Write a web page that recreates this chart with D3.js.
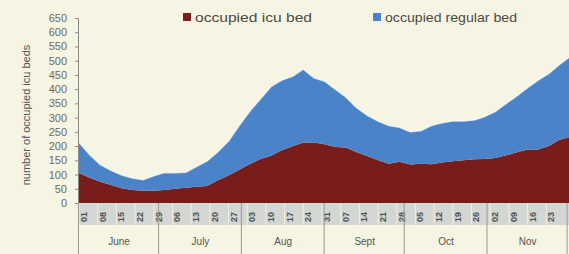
<!DOCTYPE html>
<html>
<head>
<meta charset="utf-8">
<script src="https://cdn.jsdelivr.net/npm/d3@7"></script>
<style>
  body { margin: 0; background: #f6f4e3; }
  svg { display: block; font-family: "Liberation Sans", Arial, sans-serif; }
</style>
</head>
<body>
<div id="wrapper"></div>
<script>
// day offsets from June 1, one reading every 4 days
const dayOffsets = [0, 4, 8, 12, 16, 20, 24, 28, 32, 36, 40, 44, 48, 52, 56, 60, 64, 68, 72, 76,
  80, 84, 88, 92, 96, 100, 104, 108, 112, 116, 120, 124, 128, 132, 136, 140, 144, 148, 152, 156,
  160, 164, 168, 172, 176, 180, 184]
const icuBeds = [105, 89, 75, 63, 52, 46, 43, 43, 46, 50, 54, 57, 60, 80, 97, 117, 137, 155, 166, 185,
  199, 213, 213, 206, 197, 195, 178, 165, 150, 138, 145, 135, 138, 136, 142, 147, 150, 154, 155, 158,
  168, 178, 188, 188, 200, 222, 232]
const regularBeds = [108, 81, 60, 52, 46, 42, 39, 53, 61, 56, 54, 71, 88, 100, 121, 155, 186, 211, 244, 247,
  246, 257, 227, 222, 203, 177, 157, 143, 138, 134, 121, 115, 116, 136, 140, 141, 138, 138, 149, 164,
  182, 198, 217, 244, 255, 265, 283]
const yTicks = [0, 50, 100, 150, 200, 250, 300, 350, 400, 450, 500, 550, 600, 650]
const months = ["June", "July", "Aug", "Sept", "Oct", "Nov"]
const seriesNames = ["occupied icu bed", "occupied regular bed"]
const colors = ["#781c1c", "#4a83c8"]

const startDate = new Date(2020, 5, 1)
const dayToDate = d => d3.timeDay.offset(startDate, d)

const dataset = dayOffsets.map((d, i) => ({
  date: dayToDate(d),
  icu: icuBeds[i],
  regular: regularBeds[i],
}))

let dimensions = {
  width: 569,
  height: 254,
  margin: { top: 20, left: 79, bottom: 51 },
}
dimensions.plotBottom = dimensions.height - dimensions.margin.bottom

const wrapper = d3.select("#wrapper")
  .append("svg")
    .attr("width", dimensions.width)
    .attr("height", dimensions.height)

wrapper.append("rect")
  .attr("width", dimensions.width)
  .attr("height", dimensions.height)
  .attr("fill", "#f6f4e3")

const xScale = d3.scaleTime()
  .domain([startDate, dayToDate(184)])
  .range([dimensions.margin.left, dimensions.margin.left + 184 * 2.67])

const yScale = d3.scaleLinear()
  .domain([0, 650])
  .range([dimensions.plotBottom, 18])

// stacked areas
const stack = d3.stack().keys(["icu", "regular"])
const series = stack(dataset)

const areaGenerator = d3.area()
  .x(d => xScale(d.data.date))
  .y0(d => yScale(d[0]))
  .y1(d => yScale(d[1]))

wrapper.selectAll(".layer")
  .data(series)
  .join("path")
    .attr("class", "layer")
    .attr("d", areaGenerator)
    .attr("fill", (d, i) => colors[i])

// light edge along the top of the stack
wrapper.append("path")
  .attr("d", d3.line()
    .x(d => xScale(d.data.date))
    .y(d => yScale(d[1]))(series[1]))
  .attr("fill", "none")
  .attr("stroke", "#ffffff")
  .attr("stroke-opacity", 0.7)
  .attr("stroke-width", 1.5)

// y axis
const yAxis = wrapper.append("g")
  .attr("transform", `translate(${dimensions.margin.left - 1},0)`)
  .call(d3.axisLeft(yScale).tickValues(yTicks).tickSize(3).tickPadding(8))
yAxis.select(".domain").attr("stroke", "#8a8a86")
yAxis.selectAll(".tick line").attr("stroke", "#8a8a86")
yAxis.selectAll("text")
  .attr("fill", "#6b6b66")
  .style("font-size", "11px")

wrapper.append("text")
  .attr("transform", `translate(30,115) rotate(-90)`)
  .attr("text-anchor", "middle")
  .attr("fill", "#55554f")
  .style("font-size", "11px")
  .text("number of occupied icu beds")

// date band
const bandTop = dimensions.plotBottom
const bandBottom = 225
wrapper.append("rect")
  .attr("x", dimensions.margin.left)
  .attr("y", bandTop)
  .attr("width", dimensions.width - dimensions.margin.left)
  .attr("height", bandBottom - bandTop)
  .attr("fill", "#d3d6d2")

const weekDays = d3.range(0, 180, 7).map(dayToDate)

wrapper.selectAll(".week-line")
  .data(weekDays)
  .join("line")
    .attr("class", "week-line")
    .attr("x1", d => xScale(d))
    .attr("x2", d => xScale(d))
    .attr("y1", bandTop)
    .attr("y2", bandBottom)
    .attr("stroke", "#eceee8")

wrapper.selectAll(".week-label")
  .data(weekDays)
  .join("text")
    .attr("class", "week-label")
    .attr("transform", d => `translate(${xScale(d) + 8},${bandBottom - 3}) rotate(-90)`)
    .attr("fill", "#4f524f")
    .style("font-size", "9px")
    .style("font-weight", "bold")
    .text(d => d3.timeFormat("%d")(d))

// month row
const monthStarts = d3.range(0, 7).map(i => new Date(2020, 5 + i, 1))

wrapper.selectAll(".month-line")
  .data(monthStarts)
  .join("line")
    .attr("class", "month-line")
    .attr("x1", d => xScale(d) - 0.5)
    .attr("x2", d => xScale(d) - 0.5)
    .attr("y1", bandTop)
    .attr("y2", dimensions.height)
    .attr("stroke", "#9a9a94")

wrapper.selectAll(".month-label")
  .data(monthStarts.slice(0, months.length))
  .join("text")
    .attr("class", "month-label")
    .attr("x", d => (xScale(d) + xScale(d3.timeMonth.offset(d, 1))) / 2)
    .attr("y", 245)
    .attr("text-anchor", "middle")
    .attr("fill", "#55554f")
    .style("font-size", "10px")
    .text((d, i) => months[i])

// legend
const legendX = [183, 373]
const legendWidths = [117, 132]
const legend = wrapper.selectAll(".legend")
  .data(seriesNames)
  .join("g")
    .attr("class", "legend")
    .attr("transform", (d, i) => `translate(${legendX[i]},13)`)

legend.append("rect")
  .attr("width", 8)
  .attr("height", 8)
  .attr("fill", (d, i) => colors[i])

legend.append("text")
  .attr("x", 12)
  .attr("y", 8.5)
  .attr("fill", "#4a4a45")
  .style("font-size", "12px")
  .attr("textLength", (d, i) => legendWidths[i])
  .attr("lengthAdjust", "spacingAndGlyphs")
  .text(d => d)
</script>
</body>
</html>
